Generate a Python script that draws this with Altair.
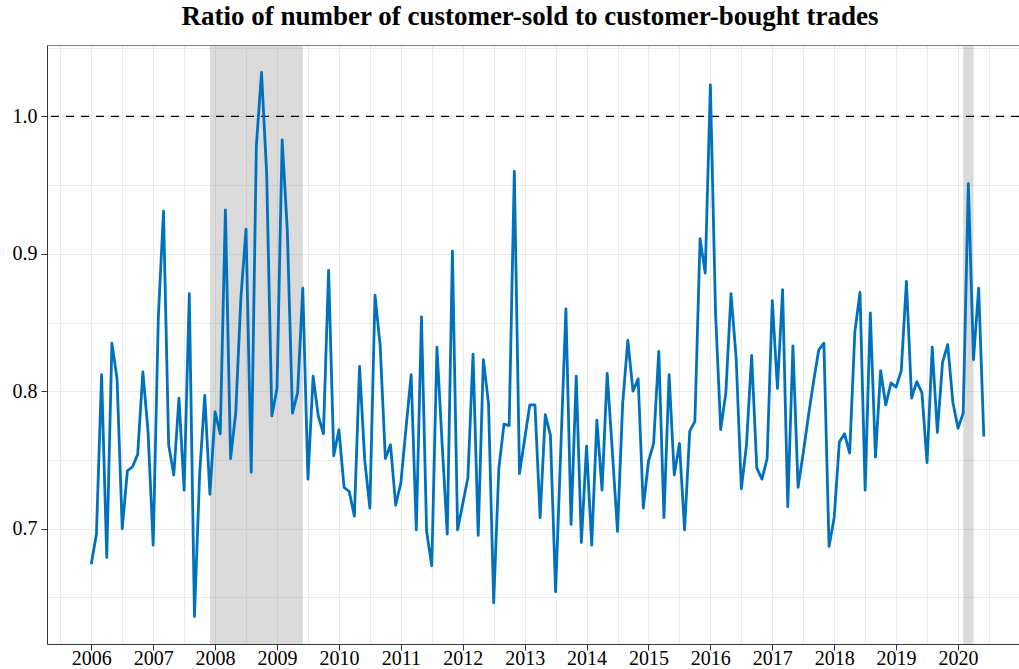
import altair as alt
import pandas as pd

# Monthly ratio of customer-sold to customer-bought trades, Jan 2006 - Jun 2020
START_YEAR = 2006
ratio = [
    # 2006
    0.674, 0.696, 0.812, 0.679, 0.835, 0.809, 0.700, 0.742, 0.745, 0.754, 0.814, 0.771,
    # 2007
    0.688, 0.854, 0.931, 0.761, 0.739, 0.795, 0.728, 0.871, 0.636, 0.739, 0.797, 0.725,
    # 2008
    0.785, 0.769, 0.932, 0.751, 0.784, 0.868, 0.918, 0.741, 0.979, 1.032, 0.958, 0.782,
    # 2009
    0.802, 0.983, 0.917, 0.784, 0.799, 0.875, 0.736, 0.811, 0.782, 0.769, 0.888, 0.753,
    # 2010
    0.772, 0.730, 0.727, 0.709, 0.818, 0.750, 0.715, 0.870, 0.833, 0.751, 0.761, 0.717,
    # 2011
    0.733, 0.773, 0.812, 0.699, 0.854, 0.698, 0.673, 0.832, 0.762, 0.696, 0.902, 0.699,
    # 2012
    0.718, 0.737, 0.827, 0.695, 0.823, 0.791, 0.646, 0.744, 0.776, 0.775, 0.960, 0.740,
    # 2013
    0.765, 0.790, 0.790, 0.708, 0.783, 0.768, 0.654, 0.757, 0.860, 0.703, 0.811, 0.690,
    # 2014
    0.760, 0.688, 0.779, 0.728, 0.813, 0.756, 0.698, 0.791, 0.837, 0.800, 0.809, 0.715,
    # 2015
    0.749, 0.762, 0.829, 0.708, 0.812, 0.739, 0.762, 0.699, 0.771, 0.778, 0.911, 0.886,
    # 2016
    1.023, 0.857, 0.772, 0.799, 0.871, 0.824, 0.729, 0.761, 0.826, 0.744, 0.736, 0.751,
    # 2017
    0.866, 0.802, 0.874, 0.716, 0.833, 0.730, 0.755, 0.782, 0.807, 0.830, 0.835, 0.687,
    # 2018
    0.708, 0.763, 0.769, 0.755, 0.843, 0.872, 0.728, 0.857, 0.752, 0.815, 0.790, 0.806,
    # 2019
    0.803, 0.815, 0.880, 0.795, 0.807, 0.799, 0.748, 0.832, 0.770, 0.821, 0.834, 0.792,
    # 2020
    0.773, 0.784, 0.951, 0.823, 0.875, 0.767,
]

# NBER recession periods (first and last month)
recession_start = ["2007-12", "2020-02"]
recession_end = ["2009-06", "2020-04"]

REFERENCE_LEVEL = 1.0
TITLE = "Ratio of number of customer-sold to customer-bought trades"

# major breaks carry labels; minor breaks only draw grid lines
x_major = list(range(2006, 2021))
x_minor = [2005.5 + 0.5 * i for i in range(31)]
y_major = [0.7, 0.8, 0.9, 1.0]
y_minor = [0.65, 0.70, 0.75, 0.80, 0.85, 0.90, 0.95, 1.00, 1.05]


def to_year(ym):
    y, m = ym.split("-")
    return int(y) + (int(m) - 1) / 12


series = pd.DataFrame({
    "t": [START_YEAR + i / 12 for i in range(len(ratio))],
    "ratio": ratio,
})
bands = pd.DataFrame({
    "start": [to_year(s) for s in recession_start],
    "end": [to_year(e) for e in recession_end],
})
ref = pd.DataFrame({"level": [REFERENCE_LEVEL]})

W, H = 972, 599
SERIF = "Liberation Serif"
GRID = "#EBEBEB"
AXIS = "#333333"

x_scale = alt.Scale(domain=[2005.285, 2020.985], nice=False, zero=False)
y_scale = alt.Scale(domain=[0.616, 1.052], nice=False, zero=False)

# grid-only axes (the top one also draws the panel's upper edge)
x_grid_axis = alt.Axis(
    orient="top", values=x_minor, grid=True, gridColor=GRID, gridWidth=1,
    ticks=False, labels=False, domain=True, domainColor="#7F7F7F", domainWidth=1,
    title=None,
)
y_grid_axis = alt.Axis(
    orient="right", values=y_minor, grid=True, gridColor=GRID, gridWidth=1,
    ticks=False, labels=False, domain=False, title=None,
)

# labelled axes
x_axis = alt.Axis(
    orient="bottom", values=x_major, format="d", grid=False,
    tickSize=6, tickColor=AXIS, tickWidth=1,
    domainColor=AXIS, domainWidth=1,
    labelFont=SERIF, labelFontSize=20, labelColor="#000000",
    labelBaseline="bottom", labelPadding=18.5,
    labelFlush=False, labelOverlap=False, title=None,
)
y_axis = alt.Axis(
    orient="left", values=y_major, format=".1f", grid=False,
    tickSize=6, tickColor=AXIS, tickWidth=1,
    domainColor=AXIS, domainWidth=1,
    labelFont=SERIF, labelFontSize=20, labelColor="#000000",
    labelPadding=4, labelFlush=False, labelOverlap=False, title=None,
)

shade = alt.Chart(bands).mark_rect(color="#808080", opacity=0.29).encode(
    x=alt.X("start:Q", scale=x_scale, axis=x_grid_axis),
    x2="end:Q",
    y=alt.value(0),
    y2=alt.value(H),
)

ref_line = alt.Chart(ref).mark_rule(color="black", strokeWidth=1.3, strokeDash=[8, 7]).encode(
    y=alt.Y("level:Q", scale=y_scale, axis=y_grid_axis),
)

line = alt.Chart(series).mark_line(color="#0072BD", strokeWidth=2.8, strokeJoin="round").encode(
    x=alt.X("t:Q", scale=x_scale, axis=x_axis),
    y=alt.Y("ratio:Q", scale=y_scale, axis=y_axis),
)

chart = alt.layer(shade, ref_line, line).resolve_axis(
    x="independent", y="independent"
).properties(
    width=W,
    height=H,
    autosize=alt.AutoSizeParams(type="none"),
    padding={"left": 47, "top": 45, "right": 0, "bottom": 25},
    title=alt.Title(TITLE, font=SERIF, fontSize=27, fontWeight="bold",
                    color="#000000", anchor="middle", offset=14, dx=-3),
).configure_view(stroke=None)

chart.save("out.html", embed_options={"renderer": "svg", "actions": False})
